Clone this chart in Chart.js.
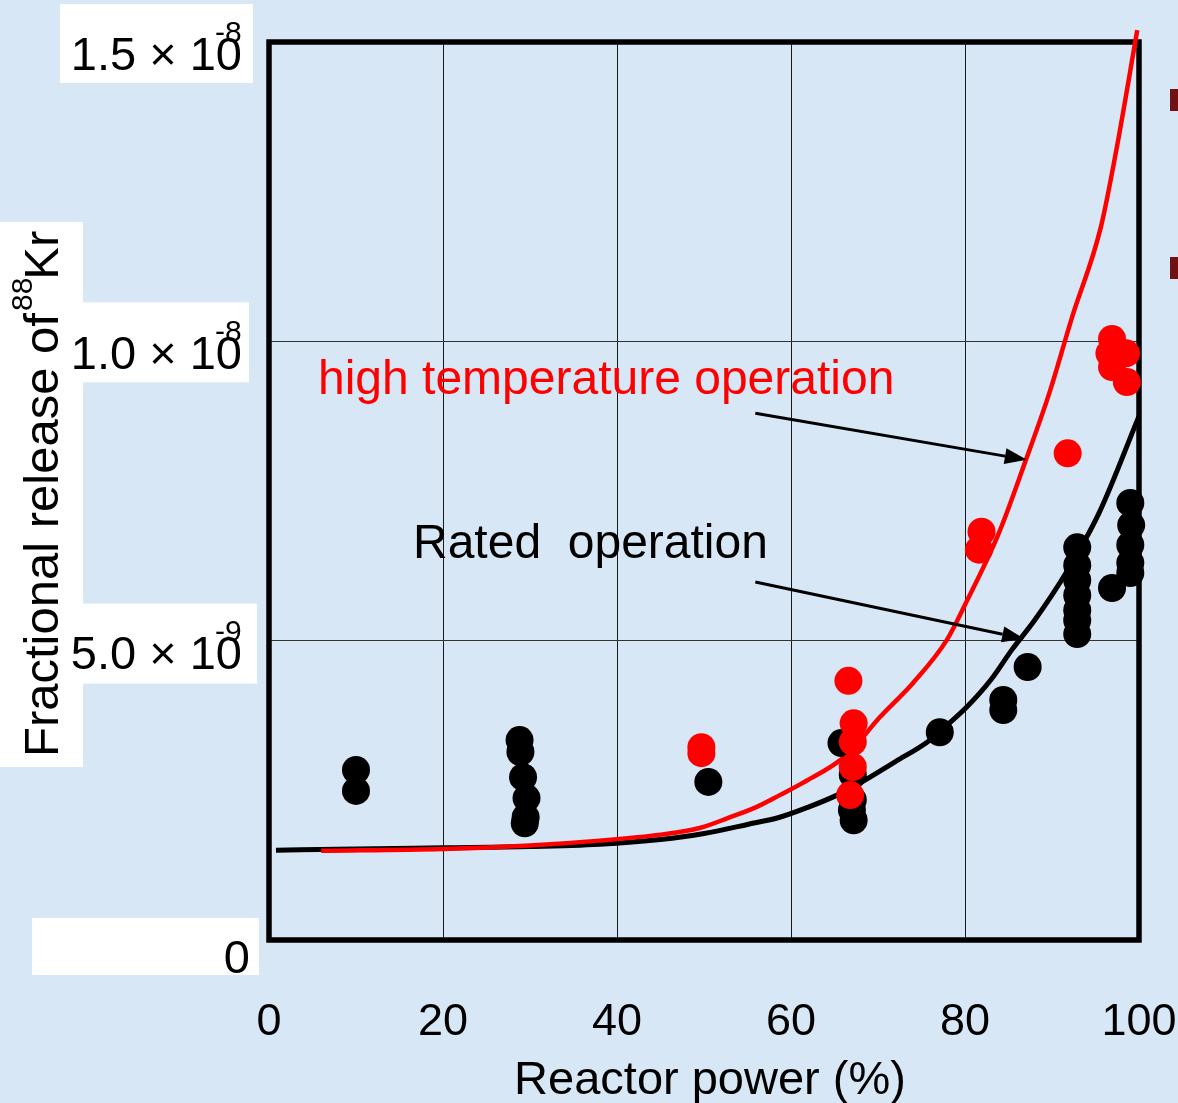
<!DOCTYPE html>
<html><head><meta charset="utf-8">
<script src="https://cdn.jsdelivr.net/npm/chart.js@4/dist/chart.umd.min.js"></script>
<style>html,body{margin:0;padding:0;background:#d8e7f5;overflow:hidden}canvas{display:block}</style>
</head><body>
<canvas id="c" width="1178" height="1103"></canvas>
<script>
// ---------- data (release values in units of 1e-9) ----------
const xTickValues = [0, 20, 40, 60, 80, 100];
const yTickValues = [0, 5, 10, 15];
const yTickMantissa = ["0", "5.0 \u00d7 10", "1.0 \u00d7 10", "1.5 \u00d7 10"];
const yTickExponent = ["", "-9", "-8", "-8"];

const ratedPower   = [10.0, 10.0, 28.8, 28.9, 29.2, 29.6, 29.5, 29.4, 50.5, 65.8, 67.1, 67.1, 67.0, 67.2, 77.1, 84.4, 84.4, 87.2, 92.9, 92.9, 92.9, 92.9, 92.9, 92.9, 92.9, 96.9, 99.0, 99.1, 99.0, 99.0, 99.0];
const ratedRelease = [2.84, 2.49, 3.34, 3.14, 2.72, 2.37, 2.05, 1.95, 2.64, 3.29, 2.76, 2.34, 2.17, 2.00, 3.47, 4.01, 3.84, 4.56, 6.56, 6.26, 6.01, 5.76, 5.51, 5.34, 5.11, 5.88, 7.30, 6.93, 6.60, 6.30, 6.13];

const highTempPower   = [49.7, 49.7, 66.6, 67.2, 67.1, 67.1, 66.8, 81.9, 81.6, 91.8, 96.9, 96.6, 98.5, 98.6, 96.9];
const highTempRelease = [3.22, 3.12, 4.33, 3.62, 3.31, 2.89, 2.42, 6.82, 6.52, 8.13, 10.04, 9.80, 9.80, 9.32, 9.57];

const ratedCurvePower   = [0.8, 10, 20, 30, 38, 45, 50, 55, 58.7, 62, 65.3, 67.9, 72, 75.6, 77, 80.2, 83, 85.4, 88, 91.6, 95.4, 100];
const ratedCurveRelease = [1.50, 1.52, 1.54, 1.56, 1.60, 1.68, 1.78, 1.93, 2.05, 2.22, 2.42, 2.62, 2.98, 3.30, 3.47, 3.89, 4.35, 4.85, 5.34, 6.13, 7.13, 8.75];

const highCurvePower   = [6, 20, 30, 38, 45, 49.5, 52.8, 56, 58.7, 61.3, 66.4, 70.2, 74.0, 77.9, 80, 83.9, 87.0, 89.7, 92.3, 95.6, 97.4, 99.8];
const highCurveRelease = [1.49, 1.52, 1.58, 1.66, 1.76, 1.87, 2.04, 2.22, 2.42, 2.62, 3.09, 3.72, 4.29, 5.01, 5.60, 6.80, 8.02, 9.14, 10.4, 11.9, 13.2, 15.2];

const xTitle = "Reactor power (%)";
const yTitleMain = "Fractional release of";
const yTitleSup = "88";
const yTitleTail = "Kr";
const labelHigh = "high temperature operation";
const labelRated = "Rated  operation";
const arrowFrom = [[55.9, 8.80], [55.9, 5.98]];
const arrowTo   = [[87.1, 8.02], [86.8, 5.03]];

// ---------- drawing ----------
const FONT = "'Liberation Sans', Arial, sans-serif";
const toPts = (xs, ys) => xs.map((x, i) => ({x: x, y: ys[i]}));

const deco = {
  id: 'deco',
  beforeDraw(chart) {
    const c = chart.ctx;
    c.save();
    c.fillStyle = '#d8e7f5';
    c.fillRect(0, 0, chart.width, chart.height);
    c.fillStyle = '#ffffff';
    const ys = chart.scales.y;
    const boxes = [[32, 259, -22, 35], [83, 257, -37, 43], [83, 249, -39, 41], [60, 253, -38, 41]];
    yTickValues.forEach((v, i) => {
      const p = ys.getPixelForValue(v);
      const b = boxes[i];
      c.fillRect(b[0], p + b[2], b[1] - b[0], b[3] - b[2]);
    });
    c.fillRect(0, 222, 83, 545);
    c.fillStyle = '#6e1214';
    c.fillRect(1170, 89, 8, 22);
    c.fillRect(1170, 257, 8, 22);
    c.restore();
  },
  beforeDatasetsDraw(chart) {
    const c = chart.ctx, a = chart.chartArea;
    c.save();
    c.strokeStyle = '#000';
    c.lineWidth = 5.5;
    c.strokeRect(a.left, a.top, a.right - a.left, a.bottom - a.top);
    c.restore();
  },
  afterDraw(chart) {
    const c = chart.ctx, xs = chart.scales.x, ys = chart.scales.y;
    c.save();
    c.fillStyle = '#000';
    c.textBaseline = 'alphabetic';
    yTickValues.forEach((v, i) => {
      const p = ys.getPixelForValue(v);
      c.font = '47px ' + FONT;
      c.textAlign = 'right';
      if (i === 0) {
        c.fillText(yTickMantissa[i], 250, p + 33);
      } else {
        c.fillText(yTickMantissa[i], 242, p + 28);
        c.font = '30px ' + FONT;
        c.textAlign = 'left';
        c.fillText(yTickExponent[i], 215, p);
      }
    });
    c.font = '47px ' + FONT;
    c.textAlign = 'center';
    c.fillText(xTitle, 710, 1094);
    c.save();
    c.translate(58, 757);
    c.rotate(-Math.PI / 2);
    c.textAlign = 'left';
    c.font = '49px ' + FONT;
    c.fillText(yTitleMain, 0, 0);
    let w = c.measureText(yTitleMain).width;
    c.font = '30px ' + FONT;
    c.fillText(yTitleSup, w + 2, -26);
    const ws = c.measureText(yTitleSup).width;
    c.font = '49px ' + FONT;
    c.fillText(yTitleTail, w + ws, 0);
    c.restore();
    c.textAlign = 'left';
    c.font = '48px ' + FONT;
    c.fillStyle = '#ff0000';
    c.fillText(labelHigh, 318, 394);
    c.fillStyle = '#000';
    c.fillText(labelRated, 413, 558);
    c.strokeStyle = '#000';
    c.lineWidth = 3;
    for (let i = 0; i < arrowFrom.length; i++) {
      const x0 = xs.getPixelForValue(arrowFrom[i][0]), y0 = ys.getPixelForValue(arrowFrom[i][1]);
      const x1 = xs.getPixelForValue(arrowTo[i][0]), y1 = ys.getPixelForValue(arrowTo[i][1]);
      const ang = Math.atan2(y1 - y0, x1 - x0);
      const L = 22, W = 8;
      const bx = x1 - L * Math.cos(ang), by = y1 - L * Math.sin(ang);
      c.beginPath(); c.moveTo(x0, y0); c.lineTo(bx, by); c.stroke();
      c.beginPath();
      c.moveTo(x1, y1);
      c.lineTo(bx + W * Math.sin(ang), by - W * Math.cos(ang));
      c.lineTo(bx - W * Math.sin(ang), by + W * Math.cos(ang));
      c.closePath(); c.fill();
    }
    c.restore();
  }
};

new Chart(document.getElementById('c').getContext('2d'), {
  type: 'scatter',
  data: {
    datasets: [
      {label: 'high temperature points', data: toPts(highTempPower, highTempRelease), backgroundColor: '#ff0000', borderWidth: 0, pointRadius: 14, pointHoverRadius: 14, order: 0, clip: false},
      {label: 'rated points', data: toPts(ratedPower, ratedRelease), backgroundColor: '#000000', borderWidth: 0, pointRadius: 14, pointHoverRadius: 14, order: 1, clip: false},
      {label: 'high temperature operation', data: toPts(highCurvePower, highCurveRelease), showLine: true, borderColor: '#ff0000', borderWidth: 4.5, pointRadius: 0, cubicInterpolationMode: 'monotone', order: 2, clip: false},
      {label: 'Rated operation', data: toPts(ratedCurvePower, ratedCurveRelease), showLine: true, borderColor: '#000000', borderWidth: 5, pointRadius: 0, cubicInterpolationMode: 'monotone', order: 3, clip: false}
    ]
  },
  options: {
    responsive: false,
    animation: false,
    devicePixelRatio: 1,
    layout: {padding: {top: 42, right: 39, left: 0, bottom: 0}},
    plugins: {legend: {display: false}, tooltip: {enabled: false}},
    events: [],
    scales: {
      x: {
        type: 'linear', min: 0, max: 100,
        afterFit(s) { s.height = 163; s.paddingLeft = 0; s.paddingRight = 0; s.paddingTop = 0; s.paddingBottom = 0; },
        afterBuildTicks(s) { s.ticks = xTickValues.map(v => ({value: v})); },
        ticks: {font: {size: 45, family: FONT}, color: '#000', padding: 56, maxRotation: 0, autoSkip: false},
        grid: {color: '#1a1a1a', lineWidth: 1, drawTicks: false},
        border: {display: false}
      },
      y: {
        type: 'linear', min: 0, max: 15,
        afterFit(s) { s.width = 269; s.paddingLeft = 0; s.paddingRight = 0; s.paddingTop = 0; s.paddingBottom = 0; },
        afterBuildTicks(s) { s.ticks = yTickValues.map(v => ({value: v})); },
        ticks: {display: false},
        grid: {color: '#333333', lineWidth: 1, drawTicks: false},
        border: {display: false}
      }
    }
  },
  plugins: [deco]
});
</script>
</body></html>
